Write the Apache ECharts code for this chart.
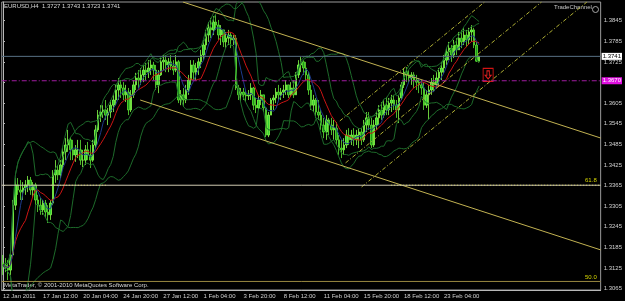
<!DOCTYPE html>
<html>
<head>
<meta charset="utf-8">
<script src="https://cdn.jsdelivr.net/npm/echarts@6/dist/echarts.min.js"></script>
<style>
html, body { margin: 0; padding: 0; background: #000; }
#chart { width: 625px; height: 301px; }
</style>
</head>
<body>
<div id="chart"></div>
<script>
// EURUSD H4, 12 Jan - 25 Feb 2011
var dateLabels = ['12 Jan 2011', '17 Jan 12:00', '20 Jan 04:00', '24 Jan 20:00', '27 Jan 12:00', '1 Feb 04:00',
    '3 Feb 20:00', '8 Feb 12:00', '11 Feb 04:00', '15 Feb 20:00', '18 Feb 12:00', '23 Feb 04:00'];
var labelEvery = 16;
var totalSlots = 239;   // chart width in bars, the right part is empty (chart shift)

var opens = [
    1.3140,1.3134,1.3125,1.3119,1.3163,1.3308,1.3367,1.3352,1.3346,1.3358,
    1.3367,1.3381,1.3352,1.3367,1.3323,1.3308,1.3294,1.3314,1.3288,1.3280,
    1.3314,1.3396,1.3410,1.3396,1.3425,1.3463,1.3483,1.3498,1.3469,1.3454,
    1.3469,1.3469,1.3439,1.3439,1.3469,1.3454,1.3439,1.3483,1.3527,1.3570,
    1.3579,1.3585,1.3570,1.3579,1.3599,1.3614,1.3643,1.3658,1.3649,1.3629,
    1.3637,1.3585,1.3629,1.3658,1.3678,1.3672,1.3687,1.3701,1.3695,1.3707,
    1.3716,1.3701,1.3658,1.3687,1.3725,1.3730,1.3716,1.3725,1.3713,1.3701,
    1.3725,1.3614,1.3629,1.3614,1.3643,1.3672,1.3716,1.3695,1.3707,1.3725,
    1.3745,1.3774,1.3803,1.3824,1.3818,1.3841,1.3832,1.3803,1.3818,1.3783,
    1.3794,1.3803,1.3789,1.3794,1.3649,1.3629,1.3637,1.3629,1.3626,1.3629,
    1.3649,1.3599,1.3591,1.3614,1.3629,1.3591,1.3512,1.3570,1.3614,1.3620,
    1.3637,1.3629,1.3637,1.3643,1.3658,1.3629,1.3649,1.3629,1.3687,1.3716,
    1.3725,1.3707,1.3687,1.3643,1.3599,1.3614,1.3579,1.3570,1.3541,1.3521,
    1.3556,1.3541,1.3527,1.3532,1.3498,1.3474,1.3469,1.3483,1.3512,1.3498,
    1.3512,1.3498,1.3512,1.3521,1.3498,1.3541,1.3562,1.3541,1.3483,1.3541,
    1.3562,1.3585,1.3570,1.3599,1.3585,1.3605,1.3614,1.3599,1.3585,1.3620,
    1.3658,1.3695,1.3687,1.3678,1.3687,1.3672,1.3666,1.3658,1.3649,1.3599,
    1.3629,1.3643,1.3666,1.3658,1.3678,1.3695,1.3707,1.3730,1.3754,1.3765,
    1.3745,1.3774,1.3760,1.3794,1.3783,1.3803,1.3789,1.3812,1.3818,1.3774,1.3727
];
var highs = [
    1.3163,1.3154,1.3148,1.3177,1.3323,1.3387,1.3387,1.3381,1.3375,1.3381,
    1.3393,1.3390,1.3375,1.3373,1.3338,1.3329,1.3323,1.3323,1.3308,1.3323,
    1.3410,1.3439,1.3425,1.3439,1.3474,1.3503,1.3527,1.3506,1.3498,1.3483,
    1.3498,1.3498,1.3469,1.3483,1.3492,1.3483,1.3498,1.3541,1.3585,1.3599,
    1.3599,1.3614,1.3591,1.3614,1.3629,1.3658,1.3678,1.3672,1.3666,1.3658,
    1.3649,1.3643,1.3672,1.3693,1.3701,1.3707,1.3716,1.3722,1.3730,1.3730,
    1.3725,1.3716,1.3701,1.3736,1.3745,1.3745,1.3736,1.3745,1.3730,1.3745,
    1.3730,1.3643,1.3649,1.3658,1.3687,1.3730,1.3730,1.3722,1.3736,1.3760,
    1.3789,1.3818,1.3841,1.3853,1.3858,1.3864,1.3847,1.3832,1.3818,1.3812,
    1.3818,1.3812,1.3803,1.3803,1.3658,1.3649,1.3649,1.3643,1.3643,1.3663,
    1.3652,1.3620,1.3629,1.3643,1.3629,1.3591,1.3579,1.3620,1.3629,1.3649,
    1.3658,1.3649,1.3658,1.3672,1.3658,1.3666,1.3672,1.3695,1.3730,1.3739,
    1.3730,1.3725,1.3695,1.3658,1.3629,1.3620,1.3614,1.3585,1.3562,1.3570,
    1.3562,1.3562,1.3556,1.3550,1.3512,1.3498,1.3503,1.3527,1.3532,1.3527,
    1.3532,1.3527,1.3532,1.3532,1.3556,1.3579,1.3579,1.3562,1.3556,1.3579,
    1.3599,1.3608,1.3614,1.3623,1.3620,1.3629,1.3629,1.3614,1.3629,1.3666,
    1.3707,1.3710,1.3701,1.3695,1.3695,1.3687,1.3678,1.3672,1.3666,1.3643,
    1.3658,1.3678,1.3687,1.3695,1.3707,1.3725,1.3745,1.3765,1.3783,1.3774,
    1.3789,1.3794,1.3812,1.3818,1.3824,1.3818,1.3824,1.3832,1.3824,1.3783,1.3743
];
var lows = [
    1.3105,1.3113,1.3090,1.3105,1.3163,1.3294,1.3338,1.3323,1.3323,1.3338,
    1.3346,1.3338,1.3329,1.3308,1.3288,1.3280,1.3280,1.3271,1.3256,1.3265,
    1.3308,1.3373,1.3381,1.3387,1.3410,1.3439,1.3463,1.3439,1.3439,1.3434,
    1.3445,1.3425,1.3419,1.3425,1.3439,1.3416,1.3434,1.3474,1.3521,1.3550,
    1.3562,1.3556,1.3541,1.3562,1.3579,1.3599,1.3614,1.3620,1.3614,1.3608,
    1.3570,1.3579,1.3620,1.3643,1.3649,1.3658,1.3666,1.3672,1.3678,1.3687,
    1.3672,1.3643,1.3634,1.3684,1.3701,1.3695,1.3695,1.3701,1.3687,1.3695,
    1.3605,1.3599,1.3594,1.3605,1.3629,1.3658,1.3672,1.3672,1.3687,1.3707,
    1.3730,1.3760,1.3783,1.3794,1.3803,1.3818,1.3789,1.3774,1.3768,1.3765,
    1.3774,1.3765,1.3774,1.3643,1.3614,1.3608,1.3614,1.3608,1.3614,1.3614,
    1.3585,1.3576,1.3585,1.3599,1.3579,1.3506,1.3506,1.3570,1.3585,1.3605,
    1.3614,1.3614,1.3620,1.3629,1.3620,1.3623,1.3620,1.3629,1.3678,1.3695,
    1.3687,1.3672,1.3629,1.3585,1.3579,1.3562,1.3556,1.3527,1.3503,1.3498,
    1.3512,1.3512,1.3498,1.3483,1.3454,1.3445,1.3454,1.3474,1.3483,1.3483,
    1.3480,1.3483,1.3474,1.3483,1.3492,1.3521,1.3527,1.3474,1.3477,1.3527,
    1.3541,1.3556,1.3562,1.3570,1.3570,1.3579,1.3585,1.3562,1.3547,1.3614,
    1.3649,1.3666,1.3663,1.3658,1.3649,1.3643,1.3634,1.3629,1.3585,1.3591,
    1.3556,1.3629,1.3637,1.3649,1.3658,1.3672,1.3693,1.3716,1.3730,1.3725,
    1.3736,1.3745,1.3760,1.3765,1.3774,1.3768,1.3774,1.3783,1.3765,1.3725,1.3723
];
var closes = [
    1.3134,1.3125,1.3119,1.3163,1.3308,1.3367,1.3352,1.3346,1.3358,1.3367,
    1.3381,1.3352,1.3367,1.3323,1.3308,1.3294,1.3314,1.3288,1.3280,1.3314,
    1.3396,1.3410,1.3396,1.3425,1.3463,1.3483,1.3498,1.3469,1.3454,1.3469,
    1.3469,1.3439,1.3439,1.3469,1.3454,1.3439,1.3483,1.3527,1.3570,1.3579,
    1.3585,1.3570,1.3579,1.3599,1.3614,1.3643,1.3658,1.3649,1.3629,1.3637,
    1.3585,1.3629,1.3658,1.3678,1.3672,1.3687,1.3701,1.3695,1.3707,1.3716,
    1.3701,1.3658,1.3687,1.3725,1.3730,1.3716,1.3725,1.3713,1.3701,1.3725,
    1.3614,1.3629,1.3614,1.3643,1.3672,1.3716,1.3695,1.3707,1.3725,1.3745,
    1.3774,1.3803,1.3824,1.3818,1.3841,1.3832,1.3803,1.3818,1.3783,1.3794,
    1.3803,1.3789,1.3794,1.3649,1.3629,1.3637,1.3629,1.3626,1.3629,1.3649,
    1.3599,1.3591,1.3614,1.3629,1.3591,1.3512,1.3570,1.3614,1.3620,1.3637,
    1.3629,1.3637,1.3643,1.3658,1.3629,1.3649,1.3629,1.3687,1.3716,1.3725,
    1.3707,1.3687,1.3643,1.3599,1.3614,1.3579,1.3570,1.3541,1.3521,1.3556,
    1.3541,1.3527,1.3532,1.3498,1.3474,1.3469,1.3483,1.3512,1.3498,1.3512,
    1.3498,1.3512,1.3521,1.3498,1.3541,1.3562,1.3541,1.3483,1.3541,1.3562,
    1.3585,1.3570,1.3599,1.3585,1.3605,1.3614,1.3599,1.3585,1.3620,1.3658,
    1.3695,1.3687,1.3678,1.3687,1.3672,1.3666,1.3658,1.3649,1.3599,1.3629,
    1.3643,1.3666,1.3658,1.3678,1.3695,1.3707,1.3730,1.3754,1.3765,1.3745,
    1.3774,1.3760,1.3794,1.3783,1.3803,1.3789,1.3812,1.3818,1.3774,1.3727,1.3741
];

var priceTicks = [1.3065, 1.3125, 1.3185, 1.3245, 1.3305, 1.3365, 1.3425, 1.3485,
    1.3545, 1.3605, 1.3665, 1.3725, 1.3785, 1.3845];
var priceMin = 1.30611, priceMax = 1.38992;

var bidPrice = 1.3741;
var alertPrice = 1.3670;
var fib618 = 1.3366;
var fib500 = 1.3086;

// trend objects: [bar index, price] anchors
var descUpper = [[71.8, 1.38992], [238.5, 1.35034]];
var descLower = [[54.75, 1.36140], [238.5, 1.31778]];
var chanUpper = [[134.4, 1.3553], [192.2, 1.38992]];
var chanMiddle = [[136.7, 1.3431], [214.9, 1.38992]];
var chanLower = [[143.1, 1.3361], [233.0, 1.38992]];
var fibDotsA = [[19.1, 1.3366], [41.7, 1.3366]];
var fibDotsB = [[154.9, 1.3366], [238.5, 1.3366]];
var sellArrow = [193.6, 1.3687];
var fibLabelSlot = 234.6;

var FONT = '"Liberation Sans", Arial, sans-serif';

function movingAvg(src, n) {
    return src.map(function (v, i) {
        var from = Math.max(0, i - n + 1), sum = 0;
        for (var k = from; k <= i; k++) sum += src[k];
        return +(sum / (i - from + 1)).toFixed(5);
    });
}
function bollinger(src, n, dev, sign) {
    var mid = movingAvg(src, n);
    return src.map(function (v, i) {
        var from = Math.max(0, i - n + 1), ss = 0;
        for (var k = from; k <= i; k++) ss += Math.pow(src[k] - mid[i], 2);
        return +(mid[i] + sign * dev * Math.sqrt(ss / (i - from + 1))).toFixed(5);
    });
}

var slots = [];
for (var i = 0; i < totalSlots; i++) slots.push(String(i));

var candles = closes.map(function (c, i) { return [opens[i], c, lows[i], highs[i]]; });

function isLabelSlot(idx) {
    return idx % labelEvery === 0 && idx / labelEvery < dateLabels.length;
}

function bandLine(data) {
    return {
        type: 'line', data: data, symbol: 'none', silent: true, z: 3,
        lineStyle: { color: '#1d6a2a', width: 1 }
    };
}
function trend(data, color, type) {
    return {
        type: 'line', xAxisIndex: 1, data: data, symbol: 'none', silent: true, z: 5,
        lineStyle: { color: color, width: 1, type: type || 'solid' }
    };
}
// full width horizontal line, optional price tag right of the axis
function hLevel(value, color, type, tagText, tagColor, tagBg) {
    return {
        type: 'line', xAxisIndex: 1, symbol: 'none', silent: true, z: 6,
        data: [[-0.5, value], [totalSlots - 0.5, value]],
        lineStyle: { color: color, width: 1, type: type },
        endLabel: tagText ? {
            show: true, formatter: tagText, color: tagColor, backgroundColor: tagBg,
            padding: [1, 1, 0, 1], fontSize: 6, fontFamily: FONT, distance: 1
        } : { show: false }
    };
}
function textMark(coord, text) {
    return {
        coord: coord, symbol: 'rect', symbolSize: 1,
        itemStyle: { color: 'rgba(0,0,0,0)' },
        label: { show: true, position: 'top', distance: 1, formatter: text,
                 color: '#d6d600', fontSize: 6, fontFamily: FONT }
    };
}

var arrowPath = 'path://M3,0L7,0L7,6L10,6L5,11L0,6L3,6Z';

var chart = echarts.init(document.getElementById('chart'));

var option = {
    backgroundColor: '#000',
    animation: false,
    textStyle: { fontFamily: FONT },
    grid: {
        left: 0.5, right: 21, top: 2, bottom: 11,
        show: true, borderColor: '#9a9a9a', borderWidth: 1, backgroundColor: 'transparent'
    },
    xAxis: [{
        type: 'category',
        data: slots,
        boundaryGap: true,
        axisLine: { lineStyle: { color: '#b8b8b8' } },
        axisTick: { alignWithLabel: true, length: 3, interval: isLabelSlot, lineStyle: { color: '#b8b8b8' } },
        axisLabel: {
            interval: isLabelSlot,
            formatter: function (v, idx) { return dateLabels[idx / labelEvery]; },
            align: 'left', margin: 3, fontSize: 6, color: '#d0d0d0', fontFamily: FONT
        },
        splitLine: { show: false }
    }, {
        type: 'value', min: -0.5, max: totalSlots - 0.5, show: false
    }],
    yAxis: {
        type: 'value',
        position: 'right',
        min: priceMin, max: priceMax,
        axisLine: { show: true, lineStyle: { color: '#b8b8b8' } },
        axisTick: { show: true, length: 2, customValues: priceTicks, lineStyle: { color: '#b8b8b8' } },
        axisLabel: {
            customValues: priceTicks,
            formatter: function (v) { return v.toFixed(4); },
            margin: 3, fontSize: 6, color: '#d0d0d0', fontFamily: FONT
        },
        splitLine: { show: false }
    },
    series: [
        hLevel(fib500, '#9a8840', 'solid'),
        hLevel(fib618, '#cfcab0', 'solid'),
        hLevel(bidPrice, '#587084', 'solid', '1.3741', '#000', '#fff'),
        hLevel(alertPrice, '#a01ca0', [5, 2, 1, 2], '1.3670', '#fff', '#e010e0'),
        {
            type: 'candlestick',
            data: candles,
            barWidth: 2,
            z: 2,
            itemStyle: {
                color: '#35d235', color0: '#1a9a1a',
                borderColor: '#86ff4a', borderColor0: '#5fe633', borderWidth: 0.8
            }
        },
        bandLine(bollinger(closes, 20, 2, 1)),
        bandLine(bollinger(closes, 20, 2, -1)),
        bandLine(bollinger(closes, 10, 2, 1)),
        bandLine(bollinger(closes, 10, 2, -1)),
        { type: 'line', data: movingAvg(closes, 10), symbol: 'none', silent: true, z: 4,
          lineStyle: { color: '#cc1414', width: 1 } },
        { type: 'line', data: movingAvg(closes, 5), symbol: 'none', silent: true, z: 4,
          lineStyle: { color: '#1d3a8a', width: 1 } },
        trend(descUpper, '#c2b252'),
        trend(descLower, '#c2b252'),
        trend(chanUpper, '#b0b034', [4, 2, 1, 2]),
        trend(chanMiddle, '#b0b034', [4, 2, 1, 2]),
        trend(chanLower, '#b0b034', [4, 2, 1, 2]),
        trend(fibDotsA, '#e0e000', [1, 2]),
        trend(fibDotsB, '#e0e000', [1, 2]),
        {
            // chart objects: fib level captions and the sell arrow
            type: 'line', xAxisIndex: 1, data: [[-0.5, bidPrice]], symbol: 'none', silent: true, z: 7,
            lineStyle: { width: 0 },
            markPoint: {
                animation: false,
                label: { show: false },
                data: [
                    textMark([fibLabelSlot, fib618], '61.8'),
                    textMark([fibLabelSlot, fib500], '50.0'),
                    { coord: sellArrow, symbol: 'rect', symbolSize: [10, 13],
                      itemStyle: { color: 'rgba(0,0,0,0)', borderColor: '#d41414', borderWidth: 1 } },
                    { coord: sellArrow, symbol: arrowPath, symbolSize: [6, 8],
                      itemStyle: { color: 'rgba(0,0,0,0)', borderColor: '#e02020', borderWidth: 1 } }
                ]
            }
        }
    ],
    graphic: [
        { type: 'text', left: 4, top: 3, silent: true,
          style: { text: 'EURUSD,H4  1.3727 1.3743 1.3723 1.3741', fill: '#d8d8d8', fontSize: 6, fontFamily: FONT } },
        { type: 'text', left: 554, top: 4, silent: true,
          style: { text: 'TradeChannel', fill: '#c8c8c8', fontSize: 6, fontFamily: FONT } },
        { type: 'circle', left: 590, top: 4, silent: true,
          shape: { r: 3 }, style: { fill: 'none', stroke: '#a8a8a8', lineWidth: 1 } },
        { type: 'text', left: 4, top: 282, silent: true,
          style: { text: 'MetaTrader, \u00a9 2001-2010 MetaQuotes Software Corp.', fill: '#d8d8d8', fontSize: 6, fontFamily: FONT } }
    ]
};

chart.setOption(option);
</script>
</body>
</html>
